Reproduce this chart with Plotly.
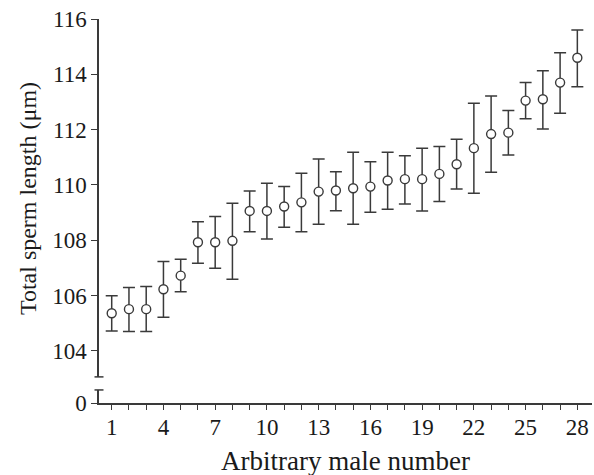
import plotly.graph_objects as go

males = list(range(1, 29))
mean_len = [105.36, 105.51, 105.51, 106.23, 106.72, 107.93, 107.93, 107.98, 109.06, 109.06,
            109.22, 109.37, 109.76, 109.80, 109.88, 109.94, 110.16, 110.21, 110.21, 110.40,
            110.75, 111.33, 111.84, 111.89, 113.05, 113.10, 113.70, 114.60]
upper_bar = [105.99, 106.29, 106.33, 107.23, 107.31, 108.67, 108.86, 109.34, 109.78, 110.06,
             109.94, 110.42, 110.94, 110.48, 111.18, 110.84, 111.18, 111.06, 111.33, 111.39,
             111.65, 112.95, 113.22, 112.69, 113.70, 114.13, 114.78, 115.60]
lower_bar = [104.72, 104.70, 104.70, 105.22, 106.14, 107.17, 106.99, 106.59, 108.31, 108.05,
             108.47, 108.31, 108.58, 109.07, 108.58, 109.01, 109.12, 109.31, 109.06, 109.40,
             109.85, 109.70, 110.46, 111.08, 112.39, 112.02, 112.59, 113.55]
y_ticks_upper = [104, 106, 108, 110, 112, 114, 116]
y_ticks_lower = [0]
x_ticks = [1, 4, 7, 10, 13, 16, 19, 22, 25, 28]
x_title = "Arbitrary male number"
y_title = "Total sperm length (μm)"

err_plus = [u - m for u, m in zip(upper_bar, mean_len)]
err_minus = [m - l for m, l in zip(mean_len, lower_bar)]

FONT = "Liberation Serif, Times New Roman, serif"
LINE = "#3a3a3a"
TXT = "#1a1a1a"

fig = go.Figure()
# empty trace so the lower (broken-axis) subplot exists
fig.add_trace(go.Scatter(x=[], y=[], xaxis="x", yaxis="y2", mode="markers",
                         showlegend=False, hoverinfo="skip"))
fig.add_trace(go.Scatter(
    x=males, y=mean_len, mode="markers", xaxis="x", yaxis="y",
    marker=dict(symbol="circle", size=9, color="white", line=dict(color=LINE, width=1.4)),
    error_y=dict(type="data", symmetric=False, array=err_plus, arrayminus=err_minus,
                 color=LINE, thickness=1.5, width=6),
    showlegend=False,
))

upper_bottom = 0.068
lower_top = 0.034

fig.update_layout(
    width=594, height=475,
    margin=dict(l=99, r=2, t=19, b=72, autoexpand=False),
    paper_bgcolor="white", plot_bgcolor="white",
    font=dict(family=FONT, size=23, color=TXT),
    xaxis=dict(
        range=[0.263, 28.85], anchor="y2", domain=[0, 1], automargin=False,
        tickmode="array", tickvals=x_ticks, ticktext=[str(v) for v in x_ticks],
        showline=True, linecolor=LINE, linewidth=1.5,
        ticks="outside", ticklen=5, tickwidth=1.3, tickcolor=LINE,
        minor=dict(dtick=1, tick0=0, ticks="outside", ticklen=5, tickwidth=1.3, tickcolor=LINE),
        showgrid=False, zeroline=False, ticklabelstandoff=-2,
        tickfont=dict(size=23, color=TXT),
    ),
    yaxis=dict(
        range=[103.06, 116], domain=[upper_bottom, 1], anchor="x", automargin=False,
        tickmode="array", tickvals=y_ticks_upper, ticktext=[str(v) for v in y_ticks_upper],
        showline=True, linecolor=LINE, linewidth=1.5,
        ticks="outside", ticklen=6, tickwidth=1.3, tickcolor=LINE,
        showgrid=False, zeroline=False,
        tickfont=dict(size=23, color=TXT),
    ),
    yaxis2=dict(
        range=[0, 0.47], domain=[0, lower_top], anchor="x", automargin=False,
        tickmode="array", tickvals=y_ticks_lower, ticktext=[str(v) for v in y_ticks_lower],
        showline=True, linecolor=LINE, linewidth=1.5,
        ticks="outside", ticklen=6, tickwidth=1.3, tickcolor=LINE,
        showgrid=False, zeroline=False,
        tickfont=dict(size=23, color=TXT),
    ),
    annotations=[
        dict(text=x_title, xref="paper", yref="paper", x=0.5, y=0, yshift=-58,
             xanchor="center", yanchor="middle", showarrow=False,
             font=dict(size=27, color=TXT, family=FONT)),
        dict(text=y_title, xref="paper", yref="paper", x=0, y=0.531, xshift=-71,
             xanchor="center", yanchor="middle", textangle=-90, showarrow=False,
             font=dict(size=24, color=TXT, family=FONT)),
    ],
)

for yy in (upper_bottom, lower_top):
    fig.add_shape(type="line", xref="paper", yref="paper",
                  xsizemode="pixel", xanchor=0, x0=-4.5, x1=4.5, y0=yy, y1=yy,
                  line=dict(color=LINE, width=1.5))

fig.write_html("out.html")
